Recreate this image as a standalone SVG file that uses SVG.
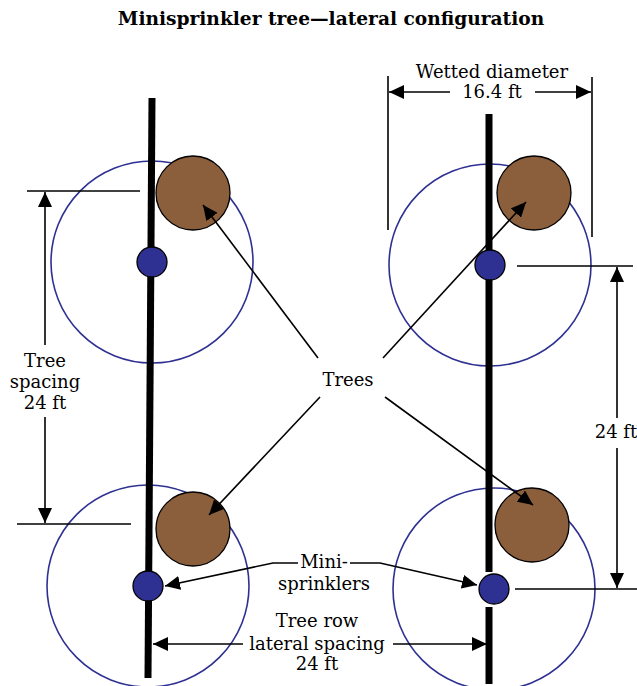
<svg xmlns="http://www.w3.org/2000/svg" width="637" height="686" viewBox="0 0 637 686">
<style>
.t{font-family:"DejaVu Serif","Liberation Serif",serif;font-size:18px;fill:#000;text-anchor:middle}
.title{font-weight:bold;font-size:18.6px}
.wet{fill:none;stroke:#2e3192;stroke-width:1.6}
.lat{stroke:#000;stroke-width:7;fill:none}
.tree{fill:#8b5e3c;stroke:#000;stroke-width:1.3}
.spr{fill:#2e3192;stroke:#000;stroke-width:1.3}
.ln{stroke:#000;stroke-width:1.6;fill:none}
.ar{stroke:#000;stroke-width:1.6;fill:none;marker-end:url(#ah)}
</style>
<defs>
<marker id="ah" markerUnits="userSpaceOnUse" markerWidth="16" markerHeight="14" refX="15" refY="7" orient="auto">
<path d="M0,0 L15,7 L0,14 Z" fill="#000"/>
</marker>
</defs>
<rect width="637" height="686" fill="#fff"/>
<text class="t title" x="331" y="25">Minisprinkler tree—lateral configuration</text>

<g id="wetted-circles">
<circle class="wet" cx="152" cy="262" r="101"/>
<circle class="wet" cx="148" cy="586" r="101"/>
<circle class="wet" cx="490" cy="265" r="101"/>
<circle class="wet" cx="494" cy="589" r="101"/>
</g>

<g id="lateral-left"><line class="lat" x1="152" y1="98" x2="148" y2="678"/></g>
<g id="lateral-right">
<line class="lat" x1="489" y1="114" x2="489" y2="572"/>
<line class="lat" x1="489" y1="607" x2="489" y2="684"/>
</g>

<g id="tree-left-top"><circle class="tree" cx="193" cy="193" r="37"/></g>
<g id="tree-left-bottom"><circle class="tree" cx="193" cy="529" r="37"/></g>
<g id="tree-right-top"><circle class="tree" cx="534" cy="193" r="37"/></g>
<g id="tree-right-bottom"><circle class="tree" cx="532" cy="525" r="37"/></g>

<g id="sprinkler-left-top"><circle class="spr" cx="152" cy="262" r="15"/></g>
<g id="sprinkler-left-bottom"><circle class="spr" cx="148" cy="586" r="15"/></g>
<g id="sprinkler-right-top"><circle class="spr" cx="490" cy="265" r="15"/></g>
<g id="sprinkler-right-bottom"><circle class="spr" cx="494" cy="589" r="15"/></g>

<g id="connectors">
<line class="ln" x1="27" y1="191" x2="140" y2="191"/>
<line class="ln" x1="17" y1="524" x2="131" y2="524"/>
<line class="ar" x1="45" y1="345" x2="45" y2="192"/>
<line class="ar" x1="45" y1="417" x2="45" y2="523"/>
<line class="ln" x1="517" y1="266" x2="633" y2="266"/>
<line class="ln" x1="515" y1="589" x2="637" y2="589"/>
<line class="ar" x1="617" y1="418" x2="617" y2="267"/>
<line class="ar" x1="617" y1="448" x2="617" y2="588"/>
<line class="ln" x1="388" y1="76" x2="388" y2="230"/>
<line class="ln" x1="592" y1="77" x2="592" y2="237"/>
<line class="ar" x1="450" y1="92" x2="389" y2="92"/>
<line class="ar" x1="535" y1="92" x2="591" y2="92"/>
<line class="ar" x1="318" y1="358" x2="203" y2="205"/>
<line class="ar" x1="383" y1="358" x2="526" y2="202"/>
<line class="ar" x1="320" y1="397" x2="209" y2="515"/>
<line class="ar" x1="385" y1="397" x2="533" y2="505"/>
<polyline class="ar" points="298,563 273,563 165,586"/>
<polyline class="ar" points="350,563 380,563 477,585"/>
<line class="ar" x1="243" y1="644" x2="153" y2="644"/>
<line class="ar" x1="393" y1="644" x2="487" y2="644"/>
</g>

<g id="labels">
<text class="t" x="492" y="78">Wetted diameter</text>
<text class="t" x="492" y="98">16.4 ft</text>
<text class="t" x="45" y="367">Tree</text>
<text class="t" x="45" y="388">spacing</text>
<text class="t" x="45" y="409">24 ft</text>
<text class="t" x="348" y="386">Trees</text>
<text class="t" x="616" y="438">24 ft</text>
<text class="t" x="324" y="568">Mini-</text>
<text class="t" x="324" y="590">sprinklers</text>
<text class="t" x="317" y="627">Tree row</text>
<text class="t" x="317" y="650">lateral spacing</text>
<text class="t" x="317" y="670">24 ft</text>
</g>
</svg>
